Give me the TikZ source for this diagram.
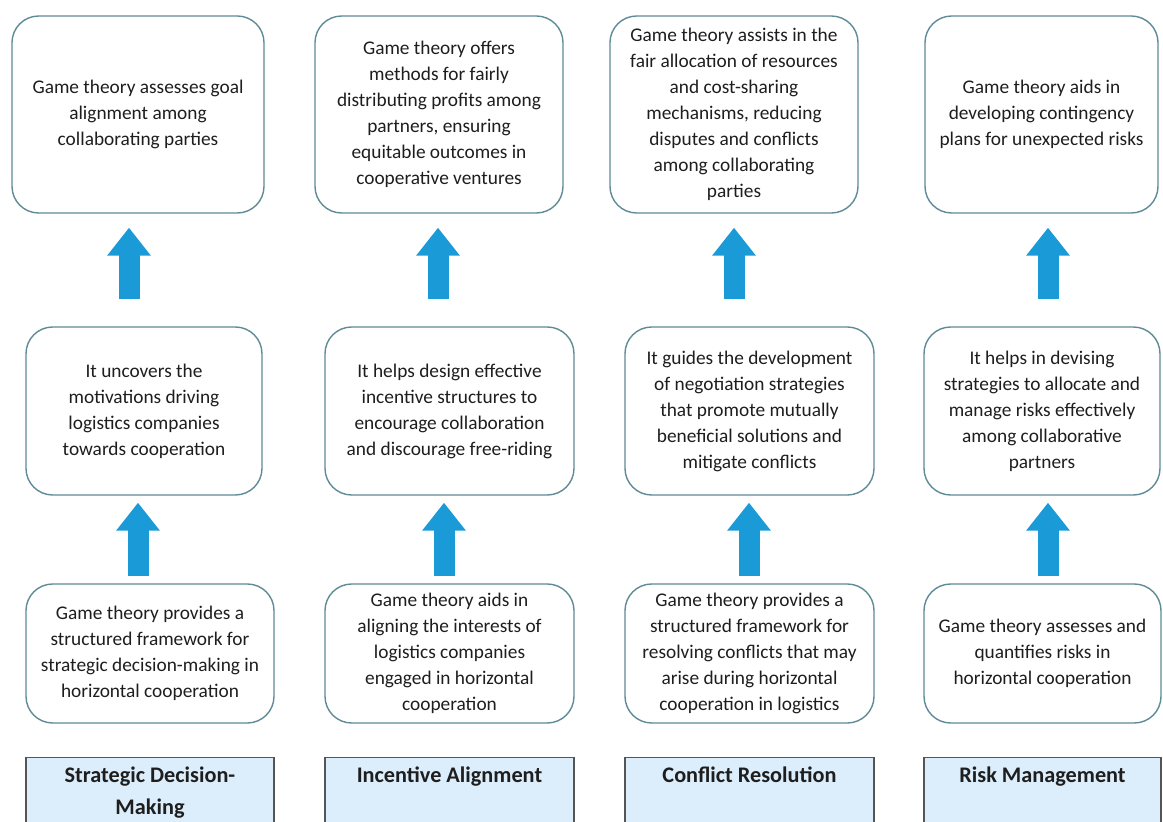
\documentclass[tikz,border=0pt]{standalone}
\usepackage{fontspec}
\setmainfont{Carlito}
\usepackage{tikz}
\usepackage{xcolor}
\usetikzlibrary{arrows.meta}

\definecolor{boxline}{HTML}{5E8B97}
\definecolor{arrowblue}{HTML}{1A9AD6}
\definecolor{headfill}{HTML}{DCEEFB}
\definecolor{headline}{HTML}{555555}
\definecolor{inktext}{HTML}{1E1E1E}

\begin{document}
\begin{tikzpicture}[x=0.03cm,y=0.03cm]
\tikzstyle{every node}+=[inner sep=0pt, text=inktext]
\tikzstyle{infobox}=[draw=boxline, line width=1.2pt, rounded corners=0.8cm, fill=white, align=center, font=\fontsize{16.5}{22.2}\selectfont]
\tikzstyle{headbox}=[draw=headline, line width=1.2pt, fill=headfill, align=center, anchor=north, inner ysep=8pt, text depth=3cm, font=\bfseries\fontsize{19}{27.3}\selectfont]
\tikzstyle{uparrow}=[draw=arrowblue, line width=0.63cm, -{Triangle[width=1.26cm, length=0.84cm]}, arrowblue]
\clip (0,0) rectangle (1163,-822);
% top row
\node[infobox, minimum width=7.56cm, minimum height=5.91cm] (t1) at (138,-114.5) {Game theory assesses goal\\alignment among\\collaborating parties};
\node[infobox, minimum width=7.44cm, minimum height=5.91cm] (t2) at (439,-114.5) {Game theory offers\\methods for fairly\\distributing profits among\\partners, ensuring\\equitable outcomes in\\cooperative ventures};
\node[infobox, minimum width=7.44cm, minimum height=5.91cm] (t3) at (734,-114.5) {Game theory assists in the\\fair allocation of resources\\and cost-sharing\\mechanisms, reducing\\disputes and conflicts\\among collaborating\\parties};
\node[infobox, minimum width=6.99cm, minimum height=5.91cm] (t4) at (1041.5,-114.5) {Game theory aids in\\developing contingency\\plans for unexpected risks};
% middle row
\node[infobox, minimum width=7.08cm, minimum height=5.04cm] (m1) at (144,-411) {It uncovers the\\motivations driving\\logistics companies\\towards cooperation};
\node[infobox, minimum width=7.47cm, minimum height=5.04cm] (m2) at (449.5,-411) {It helps design effective\\incentive structures to\\encourage collaboration\\and discourage free-riding};
\node[infobox, minimum width=7.47cm, minimum height=5.04cm] (m3) at (749.5,-411) {It guides the development\\of negotiation strategies\\that promote mutually\\beneficial solutions and\\mitigate conflicts};
\node[infobox, minimum width=7.08cm, minimum height=5.04cm] (m4) at (1042,-411) {It helps in devising\\strategies to allocate and\\manage risks effectively\\among collaborative\\partners};
% bottom row
\node[infobox, minimum width=7.44cm, minimum height=4.17cm] (b1) at (150,-653.5) {Game theory provides a\\structured framework for\\strategic decision-making in\\horizontal cooperation};
\node[infobox, minimum width=7.47cm, minimum height=4.17cm] (b2) at (449.5,-653.5) {Game theory aids in\\aligning the interests of\\logistics companies\\engaged in horizontal\\cooperation};
\node[infobox, minimum width=7.47cm, minimum height=4.17cm] (b3) at (749.5,-653.5) {Game theory provides a\\structured framework for\\resolving conflicts that may\\arise during horizontal\\cooperation in logistics};
\node[infobox, minimum width=7.11cm, minimum height=4.17cm] (b4) at (1042.5,-653.5) {Game theory assesses and\\quantifies risks in\\horizontal cooperation};
% headings
\node[headbox, minimum width=7.44cm] (h1) at (150,-757) {Strategic Decision-\\Making};
\node[headbox, minimum width=7.47cm] (h2) at (449.5,-757) {Incentive Alignment};
\node[headbox, minimum width=7.47cm] (h3) at (749.5,-757) {Conflict Resolution};
\node[headbox, minimum width=7.11cm] (h4) at (1042.5,-757) {Risk Management};
% arrows
\draw[uparrow] ([shift={(-15,27)}]m1.north) -- ([shift={(-9,-14)}]t1.south);
\draw[uparrow] ([shift={(-11.5,27)}]m2.north) -- ([shift={(-1,-14)}]t2.south);
\draw[uparrow] ([shift={(-15.5,27)}]m3.north) -- ([shift={(0,-14)}]t3.south);
\draw[uparrow] ([shift={(6,27)}]m4.north) -- ([shift={(6.5,-14)}]t4.south);
\draw[uparrow] ([shift={(-12,7)}]b1.north) -- ([shift={(-6,-7)}]m1.south);
\draw[uparrow] ([shift={(-5.5,7)}]b2.north) -- ([shift={(-5.5,-7)}]m2.south);
\draw[uparrow] ([shift={(-0.5,7)}]b3.north) -- ([shift={(-0.5,-7)}]m3.south);
\draw[uparrow] ([shift={(5.5,7)}]b4.north) -- ([shift={(6,-7)}]m4.south);
\end{tikzpicture}
\end{document}
